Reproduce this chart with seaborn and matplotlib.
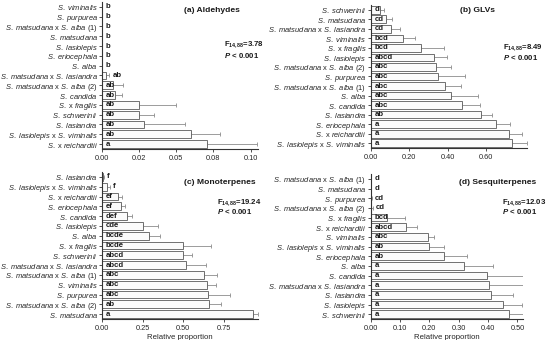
import numpy as np
import pandas as pd
import seaborn as sns
import matplotlib.pyplot as plt

sns.set_style("ticks")
plt.rcParams['font.family'] = ['Liberation Sans', 'DejaVu Sans']
plt.rcParams['mathtext.fontset'] = 'custom'
plt.rcParams['mathtext.rm'] = 'Liberation Sans'
plt.rcParams['mathtext.it'] = 'Liberation Sans:italic'
plt.rcParams['mathtext.bf'] = 'Liberation Sans:bold'
plt.rcParams['mathtext.bfit'] = 'Liberation Sans:italic:bold'

# (a) Aldehydes
ald_species = ["S. viminalis", "S. purpurea", "S. matsudana x S. alba (1)", "S. matsudana",
               "S. lasiolepis", "S. eriocephala", "S. alba", "S. matsudana x S. lasiandra",
               "S. matsudana x S. alba (2)", "S. candida", "S. x fragilis", "S. schwerinii",
               "S. lasiandra", "S. lasiolepis x S. viminalis", "S. x reichardtii"]
ald_mean = [0, 0, 0, 0, 0, 0, 0, 0.003, 0.0074, 0.0089, 0.0252, 0.0252, 0.0286, 0.0596, 0.0705]
ald_sd = [0, 0, 0, 0, 0, 0, 0, 0.002, 0.0065, 0.0045, 0.0244, 0.0096, 0.027, 0.020, 0.034]
ald_letters = ["b", "b", "b", "b", "b", "b", "b", "ab", "ab", "ab", "ab", "ab", "ab", "ab", "a"]

# (b) GLVs
glv_species = ["S. schwerinii", "S. matsudana", "S. matsudana x S. lasiandra", "S. viminalis",
               "S. x fragilis", "S. lasiolepis", "S. matsudana x S. alba (2)", "S. purpurea",
               "S. matsudana x S. alba (1)", "S. alba", "S. candida", "S. lasiandra",
               "S. eriocephala", "S. x reichardtii", "S. lasiolepis x S. viminalis"]
glv_mean = [0.049, 0.079, 0.105, 0.17, 0.262, 0.332, 0.339, 0.352, 0.385, 0.416, 0.475, 0.573, 0.649, 0.718, 0.735]
glv_sd = [0.021, 0.031, 0.048, 0.06, 0.12, 0.064, 0.08, 0.139, 0.082, 0.14, 0.095, 0.055, 0.074, 0.066, 0.075]
glv_letters = ["d", "cd", "cd", "bcd", "bcd", "abcd", "abc", "abc", "abc", "abc", "abc", "ab", "a", "a", "a"]

# (c) Monoterpenes
mono_species = ["S. lasiandra", "S. lasiolepis x S. viminalis", "S. x reichardtii", "S. eriocephala",
                "S. candida", "S. lasiolepis", "S. alba", "S. x fragilis", "S. schwerinii",
                "S. matsudana x S. lasiandra", "S. matsudana x S. alba (1)", "S. viminalis",
                "S. purpurea", "S. matsudana x S. alba (2)", "S. matsudana"]
mono_mean = [0.005, 0.031, 0.10, 0.117, 0.155, 0.253, 0.29, 0.499, 0.499, 0.515, 0.628, 0.646, 0.652, 0.658, 0.928]
mono_sd = [0.005, 0.016, 0.025, 0.025, 0.03, 0.092, 0.068, 0.174, 0.057, 0.127, 0.08, 0.057, 0.137, 0.076, 0.031]
mono_letters = ["f", "f", "ef", "ef", "def", "cde", "bcde", "bcde", "abcd", "abcd", "abc", "abc", "abc", "ab", "a"]

# (d) Sesquiterpenes
sesq_species = ["S. matsudana x S. alba (1)", "S. matsudana", "S. purpurea", "S. matsudana x S. alba (2)",
                "S. x fragilis", "S. x reichardtii", "S. viminalis", "S. lasiolepis x S. viminalis",
                "S. eriocephala", "S. alba", "S. candida", "S. matsudana x S. lasiandra",
                "S. lasiandra", "S. lasiolepis", "S. schwerinii"]
sesq_mean = [0, 0, 0.002, 0.0034, 0.0555, 0.12, 0.196, 0.198, 0.25, 0.318, 0.396, 0.402, 0.41, 0.45, 0.472]
sesq_sd = [0, 0, 0.002, 0.005, 0.061, 0.037, 0.02, 0.053, 0.08, 0.1, 0.13, 0.153, 0.075, 0.065, 0.062]
sesq_letters = ["d", "d", "cd", "cd", "bcd", "abcd", "abc", "ab", "ab", "a", "a", "a", "a", "a", "a"]

ald_ticks = [0, 0.025, 0.05, 0.075, 0.10]
ald_ticklabels = ["0.00", "0.02", "0.05", "0.08", "0.10"]
glv_ticks = [0, 0.2, 0.4, 0.6]
glv_ticklabels = ["0.00", "0.20", "0.40", "0.60"]
mono_ticks = [0, 0.25, 0.5, 0.75]
mono_ticklabels = ["0.00", "0.25", "0.50", "0.75"]
sesq_ticks = [0, 0.1, 0.2, 0.3, 0.4, 0.5]
sesq_ticklabels = ["0.00", "0.10", "0.20", "0.30", "0.40", "0.50"]

titles = ["(a) Aldehydes", "(b) GLVs", "(c) Monoterpenes", "(d) Sesquiterpenes"]
f_stats = ["3.78", "8.49", "19.24", "12.03"]


def fmt_name(name):
    # italic species names, upright "x" and "(1)"
    suffix = ""
    if name.endswith(")"):
        name, suffix = name[:-4], " " + name[-3:]
    parts = []
    for part in name.split(" x "):
        part = part.strip().replace(" ", r"\ ")
        parts.append(r"$\mathit{" + part + "}$")
    return " x ".join(parts) + suffix


W, H = 550, 340
fig = plt.figure(figsize=(W / 100, H / 100), dpi=100)

# panel boxes in pixels: left, top, right, bottom
panels = [
    (ald_species, ald_mean, ald_sd, ald_letters, ald_ticks, ald_ticklabels, 0.105, (102, 2, 258, 149)),
    (glv_species, glv_mean, glv_sd, glv_letters, glv_ticks, glv_ticklabels, 0.812, (370.5, 5, 527, 148)),
    (mono_species, mono_mean, mono_sd, mono_letters, mono_ticks, mono_ticklabels, 0.96, (102, 172, 258, 319)),
    (sesq_species, sesq_mean, sesq_sd, sesq_letters, sesq_ticks, sesq_ticklabels, 0.519, (370.5, 174, 523, 319)),
]
# title / stats positions in pixels
title_pos = [(184, 10), (460, 10), (184, 183), (459, 182)]
stat_pos = [(224, 45, 55), (503, 48, 58), (217, 203, 212), (502, 203, 212)]

for k, (species, mean, sd, letters, ticks, ticklabels, xmax, box) in enumerate(panels):
    l, t, r, b = box
    ax = fig.add_axes([l / W, 1 - b / H, (r - l) / W, (b - t) / H])
    df = pd.DataFrame({"species": species, "mean": mean, "sd": sd})
    ax.errorbar(df["mean"], np.arange(len(df)), xerr=[np.zeros(len(df)), df["sd"]],
                fmt="none", ecolor="#8c8c8c", elinewidth=0.6, capsize=1.5, capthick=0.6, zorder=1)
    sns.barplot(data=df, x="mean", y="species", orient="h", errorbar=None, color="#fbfbfb",
                saturation=1, edgecolor="#5a5a5a", linewidth=0.6, width=0.8, ax=ax, zorder=2)
    for i, (m, s, lab) in enumerate(zip(mean, sd, letters)):
        x = xmax * 0.025
        if 0 < m and m + s < xmax * 0.05:
            x = m + s + xmax * 0.02
        ax.text(x, i, lab, va="center", ha="left", fontsize=5.6, fontweight="bold", color="#1a1a1a", zorder=3)
    ax.set_xlim(0, xmax)
    ax.set_ylim(len(df) - 0.5, -0.5)
    ax.set_xticks(ticks)
    ax.set_xticklabels(ticklabels, fontsize=5.3, color="#262626")
    ax.set_yticks(np.arange(len(df)))
    ax.set_yticklabels([fmt_name(n) for n in species], fontsize=5.4, color="#262626")
    ax.set_ylabel("")
    ax.set_xlabel("Relative proportion" if k >= 2 else "", fontsize=5.6, labelpad=1.5, color="#262626")
    sns.despine(ax=ax)
    for sp in ["left", "bottom"]:
        ax.spines[sp].set_linewidth(0.8)
        ax.spines[sp].set_color("#333333")
    ax.tick_params(axis="y", length=2, width=0.6, pad=1, color="#333333")
    ax.tick_params(axis="x", length=2.5, width=0.6, pad=1.5, color="#333333")

    tx, ty = title_pos[k]
    fig.text(tx / W, 1 - ty / H, titles[k], fontsize=6.1, fontweight="bold", va="center", ha="left", color="#1a1a1a")
    sx, fy, py = stat_pos[k]
    fig.text(sx / W, 1 - fy / H, r"F$_{\mathbf{14{,}88}}$=" + f_stats[k], fontsize=5.6, fontweight="bold",
             va="center", ha="left", color="#1a1a1a")
    fig.text(sx / W, 1 - py / H, r"$\mathbfit{P}$ < 0.001", fontsize=5.6, fontweight="bold",
             va="center", ha="left", color="#1a1a1a")

fig.savefig("out.png", dpi=100)
